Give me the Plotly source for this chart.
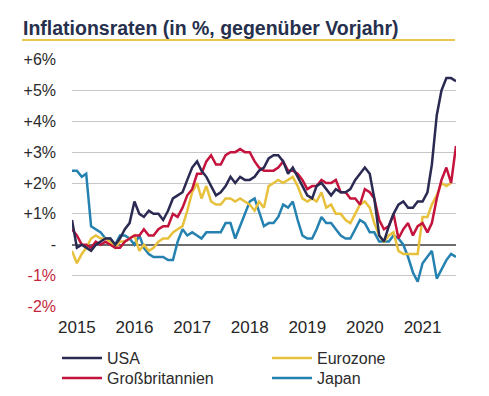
import pandas as pd
import plotly.graph_objects as go

# Monthly year-on-year inflation rates, Dec 2014 onward
usa = [0.8,
       -0.1, 0.0, -0.1, -0.2, 0.0, 0.1, 0.2, 0.2, 0.0, 0.2, 0.5, 0.7,
       1.4, 1.0, 0.9, 1.1, 1.0, 1.0, 0.8, 1.1, 1.5, 1.6, 1.7, 2.1,
       2.5, 2.7, 2.4, 2.2, 1.9, 1.6, 1.7, 1.9, 2.2, 2.0, 2.2, 2.1,
       2.1, 2.2, 2.4, 2.5, 2.8, 2.9, 2.9, 2.7, 2.3, 2.5, 2.2, 1.9,
       1.6, 1.5, 1.9, 2.0, 1.8, 1.6, 1.8, 1.7, 1.7, 1.8, 2.1, 2.3,
       2.5, 2.3, 1.5, 0.3, 0.1, 0.6, 1.0, 1.3, 1.4, 1.2, 1.2, 1.4,
       1.4, 1.7, 2.6, 4.2, 5.0, 5.4, 5.4, 5.3]
eurozone = [-0.2,
            -0.6, -0.3, -0.1, 0.2, 0.3, 0.2, 0.2, 0.1, -0.1, 0.1, 0.1, 0.2,
            0.3, -0.2, 0.0, -0.2, -0.1, 0.1, 0.2, 0.2, 0.4, 0.5, 0.6, 1.1,
            1.7, 2.0, 1.5, 1.9, 1.4, 1.3, 1.3, 1.5, 1.5, 1.4, 1.5, 1.4,
            1.3, 1.1, 1.4, 1.2, 1.9, 2.0, 2.1, 2.0, 2.1, 2.2, 1.9, 1.5,
            1.4, 1.5, 1.4, 1.7, 1.2, 1.3, 1.0, 1.0, 0.8, 0.7, 1.0, 1.3,
            1.4, 1.2, 0.7, 0.3, 0.1, 0.3, 0.4, -0.2, -0.3, -0.3, -0.3, -0.3,
            0.9, 0.9, 1.3, 1.6, 2.0, 1.9, 2.0]
uk = [0.5,
      0.3, 0.0, 0.0, -0.1, 0.1, 0.0, 0.1, 0.0, -0.1, -0.1, 0.1, 0.2,
      0.3, 0.3, 0.5, 0.3, 0.3, 0.5, 0.6, 0.6, 1.0, 0.9, 1.2, 1.6,
      1.8, 2.3, 2.3, 2.7, 2.9, 2.6, 2.6, 2.9, 3.0, 3.0, 3.1, 3.0,
      3.0, 2.7, 2.5, 2.4, 2.4, 2.4, 2.5, 2.7, 2.4, 2.4, 2.3, 2.1,
      1.8, 1.9, 1.9, 2.1, 2.0, 2.0, 2.1, 1.7, 1.7, 1.5, 1.5, 1.3,
      1.8, 1.7, 1.5, 0.8, 0.5, 0.6, 1.0, 0.2, 0.5, 0.7, 0.3, 0.6,
      0.7, 0.4, 0.7, 1.5, 2.1, 2.5, 2.0, 3.2]
japan = [2.4,
         2.4, 2.2, 2.3, 0.6, 0.5, 0.4, 0.2, 0.2, 0.0, 0.3, 0.3, 0.2,
         0.0, 0.3, -0.1, -0.3, -0.4, -0.4, -0.4, -0.5, -0.5, 0.1, 0.5, 0.3,
         0.4, 0.3, 0.2, 0.4, 0.4, 0.4, 0.4, 0.7, 0.7, 0.2, 0.6, 1.0,
         1.4, 1.5, 1.1, 0.6, 0.7, 0.7, 0.9, 1.3, 1.2, 1.4, 0.8, 0.3,
         0.2, 0.2, 0.5, 0.9, 0.7, 0.7, 0.5, 0.3, 0.2, 0.2, 0.5, 0.8,
         0.7, 0.4, 0.4, 0.1, 0.1, 0.1, 0.3, 0.2, 0.0, -0.4, -0.9, -1.2,
         -0.6, -0.4, -0.2, -1.1, -0.8, -0.5, -0.3, -0.4]

y_tickvals = [-2, -1, 0, 1, 2, 3, 4, 5, 6]
y_ticktext = ["<span style='color:#c3283e'>-2%</span>",
              "<span style='color:#c3283e'>-1%</span>",
              "-", "+1%", "+2%", "+3%", "+4%", "+5%", "+6%"]
x_years = ["2015", "2016", "2017", "2018", "2019", "2020", "2021"]

dates = pd.date_range("2014-12-01", periods=len(usa), freq="MS")

W, H = 489, 396
ml, mr, mt, mb = 72, 33, 59, 89
pw = W - ml - mr
ph = H - mt - mb


def px_x(x):
    return (x - ml) / pw


def px_y(y):
    return (H - mb - y) / ph


# name, values, colour, legend id, legend position (px: left, top)
series = [
    ("USA", usa, "#2a2a52", "legend", (57, 341)),
    ("Eurozone", eurozone, "#e8c13c", "legend2", (267, 341)),
    ("Großbritannien", uk, "#c4143d", "legend3", (57, 361)),
    ("Japan", japan, "#2481b0", "legend4", (267, 361)),
]
draw_order = ["Japan", "Eurozone", "Großbritannien", "USA"]

fig = go.Figure()
legends = {}
for name in draw_order:
    for n, vals, col, leg, (lx, ly) in series:
        if n == name:
            fig.add_trace(go.Scatter(
                x=dates[:len(vals)], y=vals, mode="lines", name=n,
                line=dict(color=col, width=2.5), legend=leg,
            ))
            legends[leg] = dict(
                x=px_x(lx), y=px_y(ly), xanchor="left", yanchor="top",
                orientation="v", font=dict(size=16, color="#2b2b2b"),
                itemwidth=40, bgcolor="rgba(0,0,0,0)",
            )

fig.update_layout(
    width=W, height=H,
    margin=dict(l=ml, r=mr, t=mt, b=mb, autoexpand=False),
    paper_bgcolor="white", plot_bgcolor="white",
    font=dict(family="Liberation Sans, Arial, sans-serif", color="#2b2b2b", size=16),
    showlegend=True,
    xaxis=dict(
        range=[dates[0], dates[-1]],
        tickvals=[pd.Timestamp(f"{y}-01-01") for y in x_years],
        ticktext=x_years,
        showgrid=False, zeroline=False, showline=False,
        ticks="", ticklabelstandoff=8,
        tickfont=dict(size=17, color="#262626"),
    ),
    yaxis=dict(
        range=[-2.02, 6.02],
        tickvals=y_tickvals, ticktext=y_ticktext,
        showgrid=True, gridcolor="#c6c6c6", gridwidth=1.3,
        zeroline=True, zerolinecolor="#6e6e6e", zerolinewidth=2.2,
        showline=False, ticks="", ticklabelstandoff=15,
        tickfont=dict(size=16, color="#2b2b2b"),
    ),
    shapes=[dict(
        type="line", xref="paper", yref="paper",
        x0=px_x(22), x1=px_x(455), y0=px_y(40), y1=px_y(40),
        line=dict(color="#e9c64c", width=2),
    )],
    annotations=[dict(
        text="<b>Inflationsraten (in %, gegenüber Vorjahr)</b>",
        xref="paper", yref="paper",
        x=px_x(21), y=px_y(28),
        xanchor="left", yanchor="middle", showarrow=False,
        font=dict(size=19.5, color="#26304d"),
    )],
)
fig.update_layout(**legends)

fig.write_html("out.html",
               config={"displayModeBar": False},
               post_script="document.body.style.margin='0';"
                           "document.body.style.overflow='hidden';")
